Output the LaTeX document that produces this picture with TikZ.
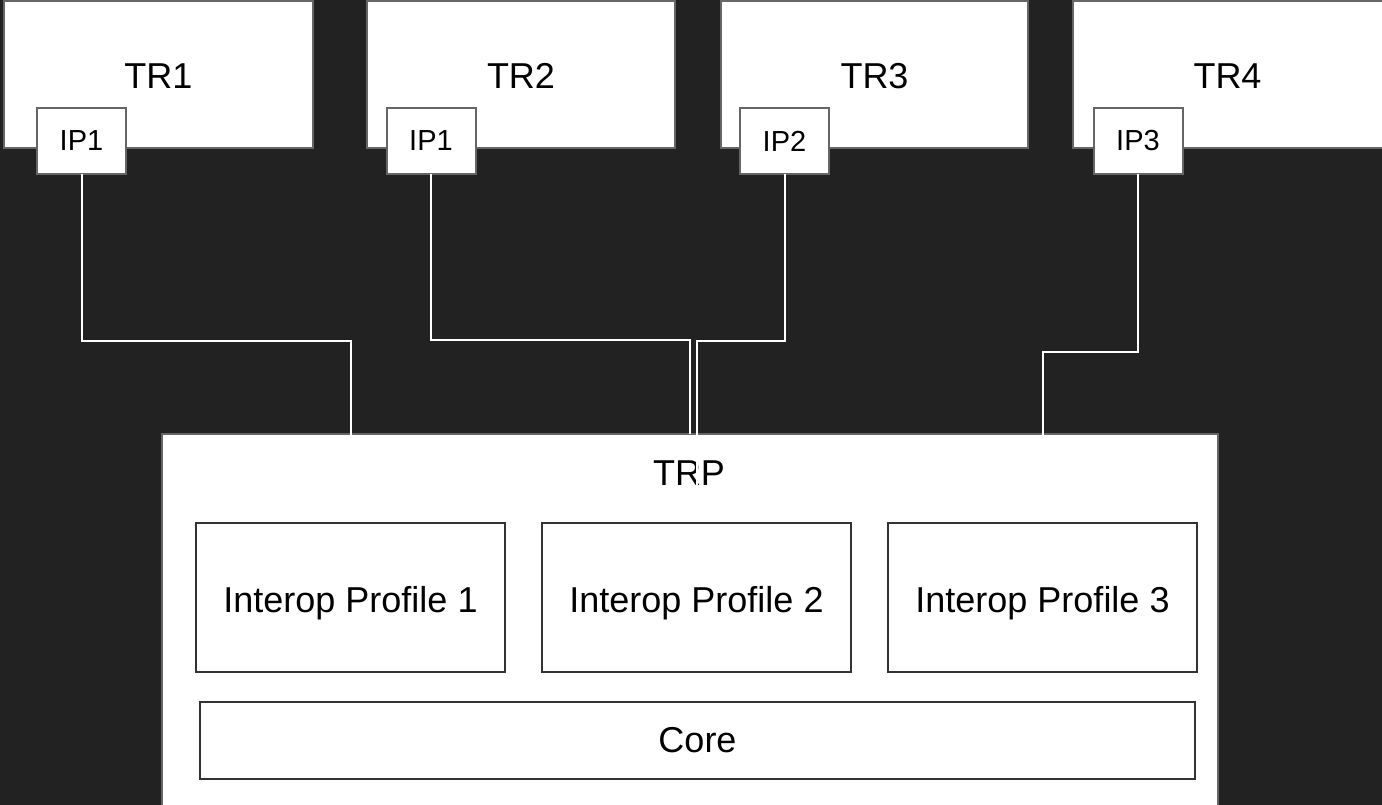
\documentclass[tikz,border=0pt]{standalone}
\usepackage{fontspec}
\setmainfont{Liberation Sans}
\definecolor{bgdark}{HTML}{222222}
\definecolor{edgegray}{HTML}{666666}
\definecolor{edgedark}{HTML}{333333}
\tikzset{
  trbox/.style={draw=edgegray, fill=white, line width=2pt, rectangle,
    inner sep=0pt, outer sep=0pt, font=\fontsize{36}{42}\selectfont},
  ipbox/.style={draw=edgegray, fill=white, line width=2pt, rectangle,
    inner sep=0pt, outer sep=0pt, minimum width=89pt, minimum height=66pt,
    font=\fontsize{29}{34}\selectfont},
  profbox/.style={draw=edgedark, fill=white, line width=2pt, rectangle,
    inner sep=0pt, outer sep=0pt, font=\fontsize{36}{42}\selectfont},
  lowtext/.style={text height=29pt, text depth=0pt},
  wire/.style={draw=white, line width=2pt},
  biglabel/.style={font=\fontsize{36}{42}\selectfont, inner sep=0pt}
}
\begin{document}
\begin{tikzpicture}[x=1pt, y=-1pt]
  \useasboundingbox (0,0) rectangle (1382,805);
  \fill[bgdark] (0,0) rectangle (1382,805);

  % tool registries along the top
  \node[trbox, lowtext, minimum width=309pt, minimum height=147pt] (tr1) at (158.5,74.5) {TR1};
  \node[trbox, lowtext, minimum width=308pt, minimum height=147pt] (tr2) at (521,74.5) {TR2};
  \node[trbox, lowtext, minimum width=307pt, minimum height=147pt] (tr3) at (874.5,74.5) {TR3};
  \node[trbox, minimum width=317pt, minimum height=147pt] (tr4) at (1231.5,74.5) {};
  \node[biglabel, lowtext] (tr4lbl) at (1227.5,74.5) {TR4};

  % interop points on each registry
  \node[ipbox] (ipa) at (81.5,141) {IP1};
  \node[ipbox] (ipb) at (431,141) {IP1};
  \node[ipbox] (ipc) at (784.5,141) {IP2};
  \node[ipbox] (ipd) at (1138,141) {IP3};

  % platform container
  \node[trbox, minimum width=1056pt, minimum height=396pt] (trp) at (690,632) {};
  \node[biglabel] (trplbl) at (689,473.5) {TRP};

  % bend points of the wiring
  \coordinate (ba) at (351,341);
  \coordinate (bb) at (690,340);
  \coordinate (bc) at (697,341);
  \coordinate (bd) at (1043,352);

  % connections from the interop points into the platform
  \draw[wire] (ipa.south) -- (ipa.south |- ba) -- (ba) -- (ba |- 0,523);
  \draw[wire] (ipb.south) -- (ipb.south |- bb) -- (bb) -- (bb |- trp.north);
  \draw[wire] (ipc.south) -- (ipc.south |- bc) -- (bc) -- (bc |- 0,523);
  \draw[wire] (ipd.south) -- (ipd.south |- bd) -- (bd) -- (bd |- 0,523);

  % profiles and core
  \node[profbox, text height=30pt, text depth=0pt, minimum width=309pt, minimum height=149pt] (p1) at (350.5,597.5) {Interop Profile 1};
  \node[profbox, text height=30pt, text depth=0pt, minimum width=309pt, minimum height=149pt] (p2) at (696.5,597.5) {Interop Profile 2};
  \node[profbox, text height=30pt, text depth=0pt, minimum width=309pt, minimum height=149pt] (p3) at (1042.5,597.5) {Interop Profile 3};
  \node[profbox, minimum width=995pt, minimum height=77pt] (core) at (697.5,740.5) {Core};
\end{tikzpicture}
\end{document}
